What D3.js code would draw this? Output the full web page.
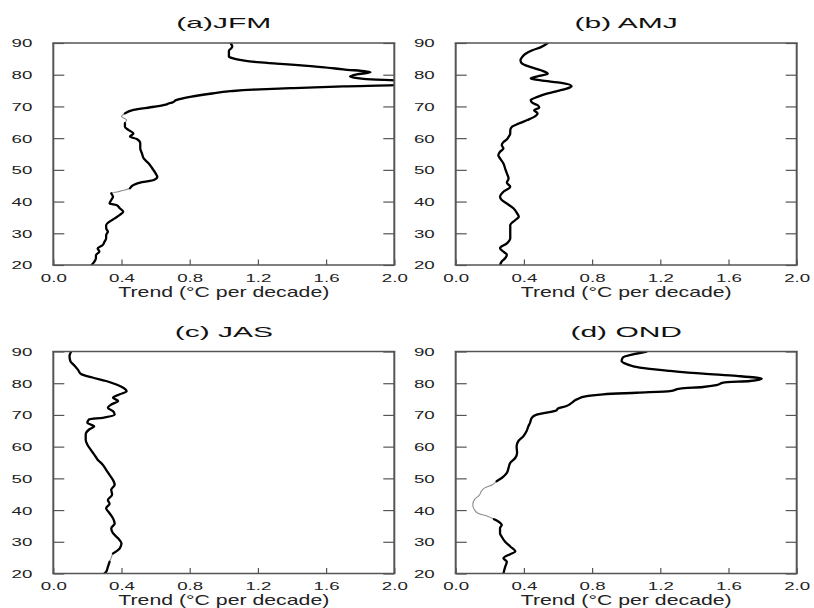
<!DOCTYPE html>
<html><head><meta charset="utf-8">
<script src="https://cdn.jsdelivr.net/npm/d3@7"></script>
<style>body{margin:0;background:#fff}</style>
</head><body><svg id="c" width="814" height="608"></svg>
<script>
// ---------- data (latitude, trend in °C per decade) ----------
const latA=[90,88.8,87.5,86.5,85.7,85.2,84.2,83.5,82.7,81.7,80.8,80.1,79.4,78.7,78.1,77.5,76.8,76.3,75.8,75.3,74.8,74.0,73.1,72.0,71.3,71.0,70.6,69.9,68.9,67.8,66.8,65.7,64.7,63.6,62.6,61.5,60.5,59.7,58.4,56.8,55.2,53.6,52.0,50.5,48.9,47.8,46.8,46.1,45.2,44.2,43.1,42.6,41.5,40.5,39.4,38.9,37.9,36.8,35.8,34.7,33.7,32.6,31.6,30.5,29.4,28.4,27.3,26.3,25.2,24.2,23.1,22.1,21.0,20.0];
const trendA=[1.04,1.05,1.03,1.03,1.03,1.05,1.15,1.31,1.51,1.70,1.86,1.78,1.74,1.82,2.05,2.15,2.05,1.70,1.41,1.17,1.04,0.92,0.81,0.72,0.70,0.68,0.66,0.59,0.47,0.42,0.40,0.43,0.42,0.42,0.44,0.47,0.45,0.49,0.51,0.51,0.52,0.53,0.56,0.58,0.60,0.61,0.59,0.52,0.47,0.45,0.38,0.34,0.35,0.34,0.33,0.37,0.39,0.41,0.39,0.36,0.33,0.31,0.31,0.32,0.31,0.31,0.30,0.29,0.26,0.27,0.25,0.25,0.24,0.225];
const grayA=[[65.4,67.1],[43.0,43.2]];

const latB=[90,88.7,87.7,86.6,85.6,84.5,83.5,82.4,81.4,80.3,79.5,78.8,78.2,77.4,76.4,75.6,74.9,74.1,73.0,72.0,71.1,70.4,69.6,68.8,67.8,66.7,65.7,64.6,63.6,62.5,61.5,60.4,59.6,58.8,57.8,56.7,55.7,54.6,53.6,52.0,50.4,48.9,47.3,45.9,44.7,43.1,41.5,40.5,39.4,37.8,36.3,35.2,34.2,32.6,31.0,30.0,28.4,26.8,25.3,24.2,23.2,22.1,21.1,20.0];
const trendB=[0.54,0.50,0.45,0.41,0.39,0.38,0.39,0.44,0.50,0.54,0.48,0.44,0.50,0.62,0.68,0.65,0.60,0.54,0.48,0.44,0.45,0.48,0.49,0.46,0.48,0.46,0.42,0.37,0.33,0.32,0.32,0.31,0.30,0.28,0.27,0.28,0.26,0.25,0.26,0.28,0.29,0.30,0.31,0.30,0.32,0.28,0.26,0.27,0.30,0.34,0.36,0.37,0.35,0.32,0.32,0.32,0.32,0.30,0.26,0.28,0.30,0.29,0.27,0.26];
const grayB=[];

const latC=[90,88.6,87.0,85.5,84.2,82.8,81.8,80.7,79.6,78.6,77.5,76.5,75.4,74.4,73.3,72.3,71.2,70.1,69.1,68.6,67.5,66.4,65.4,63.8,62.2,60.6,59.0,57.5,55.9,54.3,52.7,51.1,49.5,48.0,46.4,44.8,43.2,42.0,40.6,39.0,37.4,35.8,34.2,32.7,31.1,29.5,27.9,26.3,25.0,23.7,22.1,20.5,20.0];
const trendC=[0.105,0.095,0.10,0.125,0.145,0.165,0.23,0.31,0.37,0.41,0.43,0.39,0.35,0.38,0.34,0.32,0.35,0.36,0.29,0.21,0.20,0.24,0.21,0.19,0.19,0.20,0.22,0.24,0.26,0.29,0.31,0.33,0.35,0.36,0.34,0.345,0.32,0.33,0.31,0.33,0.35,0.36,0.34,0.35,0.38,0.40,0.39,0.35,0.34,0.33,0.32,0.31,0.30];
const grayC=[[24.9,25.1]];

const latD=[90,89.1,88.1,87.0,86.0,84.9,83.9,83.0,82.3,81.4,80.7,80.2,79.4,78.8,78.3,77.5,77.0,76.5,75.9,74.9,73.8,72.8,72.0,71.4,70.7,70.1,69.1,67.5,66.4,64.9,63.3,61.7,60.1,58.1,56.5,54.9,53.3,51.7,50.1,49.1,48.0,47.0,45.9,44.8,43.3,41.7,40.1,39.0,38.0,37.1,36.4,35.3,34.3,32.7,31.6,30.0,28.5,26.9,26.1,24.8,23.7,22.1,20.0];
const trendD=[1.12,1.04,0.98,0.973,1.003,1.08,1.257,1.452,1.648,1.795,1.726,1.57,1.53,1.45,1.316,1.257,1.062,0.866,0.768,0.71,0.68,0.65,0.60,0.59,0.534,0.475,0.446,0.436,0.426,0.416,0.397,0.367,0.357,0.36,0.35,0.32,0.31,0.30,0.27,0.24,0.215,0.17,0.15,0.14,0.11,0.10,0.11,0.13,0.19,0.225,0.25,0.27,0.26,0.26,0.27,0.29,0.32,0.35,0.32,0.28,0.30,0.29,0.28];
const grayD=[[37.5,48.5]];

const panelTitles=["(a)JFM","(b) AMJ","(c) JAS","(d) OND"];
const xTicks=[0,0.4,0.8,1.2,1.6,2.0];
const yTicks=[20,30,40,50,60,70,80,90];
const xTitle="Trend (\u00B0C per decade)";

// ---------- drawing ----------
const svg=d3.select("#c");
svg.append("rect").attr("width",814).attr("height",608).attr("fill","#fff");
const W=341, H=222;
const origins=[[53.3,43],[455.7,43],[53.3,351.5],[455.7,351.5]];
const series=[
  {lat:latA,val:trendA,gray:grayA},
  {lat:latB,val:trendB,gray:grayB},
  {lat:latC,val:trendC,gray:grayC},
  {lat:latD,val:trendD,gray:grayD}
];
const FONT="'Liberation Sans', Arial, Helvetica, sans-serif";
const FRAME="#555";

series.forEach((s,i)=>{
  const [ox,oy]=origins[i];
  const g=svg.append("g").attr("transform",`translate(${ox},${oy})`);
  const x=d3.scaleLinear().domain([0,2]).range([0,W]);
  const y=d3.scaleLinear().domain([20,90]).range([H,0]);

  const cid="clip"+i;
  g.append("clipPath").attr("id",cid).append("rect").attr("width",W).attr("height",H);

  const data=s.lat.map((l,j)=>({lat:l,v:s.val[j]}));
  const inGray=l=>s.gray.some(r=>l>=r[0]&&l<=r[1]);
  const line=d3.line().x(d=>x(d.v)).y(d=>y(d.lat)).curve(d3.curveMonotoneY);
  const lg=g.append("g").attr("clip-path",`url(#${cid})`);
  lg.append("path").datum(data).attr("d",line)
    .attr("fill","none").attr("stroke","#8c8c8c").attr("stroke-width",1.1);
  lg.append("path").datum(data).attr("d",line.defined(d=>!inGray(d.lat)))
    .attr("fill","none").attr("stroke","#000").attr("stroke-width",2.3)
    .attr("stroke-linejoin","round").attr("stroke-linecap","round");

  // left axis
  const al=g.append("g").call(d3.axisLeft(y).tickValues(yTicks).tickSize(-11).tickSizeOuter(0).tickFormat(d3.format("d")));
  al.select(".domain").remove();
  al.selectAll("line").attr("stroke",FRAME).attr("stroke-width",1.2);
  al.selectAll("text").attr("x",0).attr("dy","0.36em")
    .attr("transform","translate(-21,0) scale(1.7,1)")
    .attr("fill","#222").style("font-family",FONT).style("font-size","11px");

  // right axis (ticks only)
  const ar=g.append("g").attr("transform",`translate(${W},0)`)
    .call(d3.axisRight(y).tickValues(yTicks).tickSize(-11).tickSizeOuter(0).tickFormat(""));
  ar.select(".domain").remove();
  ar.selectAll("line").attr("stroke",FRAME).attr("stroke-width",1.2);

  // bottom axis
  const ab=g.append("g").attr("transform",`translate(0,${H})`)
    .call(d3.axisBottom(x).tickValues(xTicks).tickSize(-5.5).tickSizeOuter(0).tickFormat(d3.format(".1f")));
  ab.select(".domain").remove();
  ab.selectAll("line").attr("stroke",FRAME).attr("stroke-width",1.2);
  ab.selectAll("text").attr("y",0).attr("dy",null)
    .attr("transform","translate(0,16.8) scale(1.7,1)")
    .attr("fill","#222").style("font-family",FONT).style("font-size","11px");

  // frame
  const fr=g.append("g").attr("stroke",FRAME).attr("fill","none");
  fr.append("line").attr("x1",0).attr("x2",0).attr("y1",0).attr("y2",H).attr("stroke-width",2);
  fr.append("line").attr("x1",W).attr("x2",W).attr("y1",0).attr("y2",H).attr("stroke-width",2);
  fr.append("line").attr("x1",-1).attr("x2",W+1).attr("y1",0).attr("y2",0).attr("stroke-width",1.3);
  fr.append("line").attr("x1",-1).attr("x2",W+1).attr("y1",H).attr("y2",H).attr("stroke-width",1.3);

  // panel title
  g.append("text").attr("text-anchor","middle")
    .attr("transform",`translate(${W/2},-15) scale(2,1)`)
    .style("font-family",FONT).style("font-size","15px").attr("fill","#111")
    .text(panelTitles[i]);

  // x axis title
  g.append("text").attr("text-anchor","middle")
    .attr("transform",`translate(${W/2},${H+31.5}) scale(1.52,1)`)
    .style("font-family",FONT).style("font-size","14px").attr("fill","#222")
    .text(xTitle);
});
</script>
</body></html>
